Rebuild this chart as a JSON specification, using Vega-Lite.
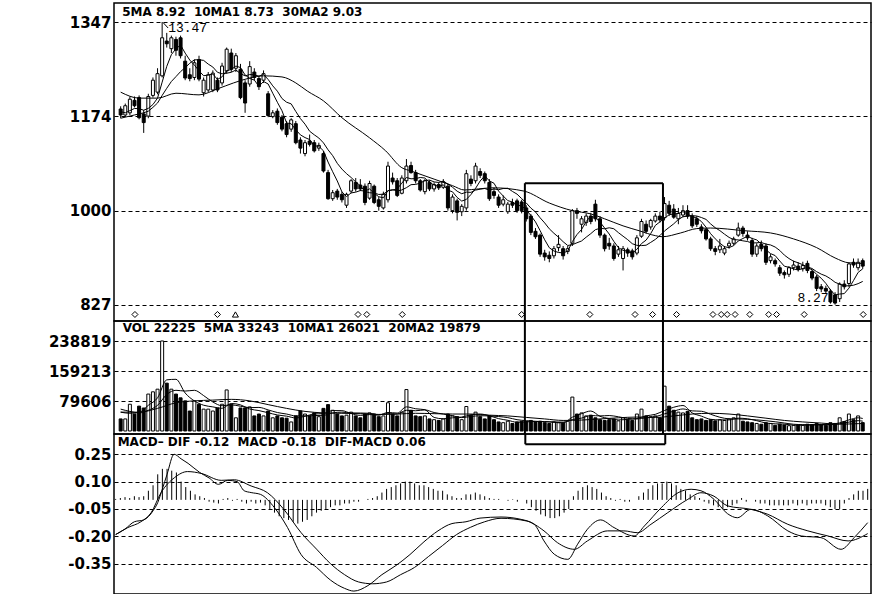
{
"$schema": "https://vega.github.io/schema/vega-lite/v6.json",
"background": "white",
"bounds": "flush",
"padding": {"left": 0, "top": 2, "right": 4, "bottom": 0},
"config": {
  "view": {"stroke": "black", "strokeWidth": 1.5},
  "concat": {"spacing": 0},
  "axis": {"labelFont": "DejaVu Sans", "labelFontWeight": "bold", "labelFontSize": 15, "labelColor": "black", "ticks": false, "domain": false, "gridColor": "black", "gridDash": [4, 3], "gridOpacity": 1, "gridWidth": 1, "labelPadding": 3, "minExtent": 113, "maxExtent": 113, "tickCount": 12, "labelOverlap": false}
},
"resolve": {"scale": {"y": "independent"}},
"datasets": {
"k": [
{"i":0,"o":1187,"h":1192,"l":1170,"c":1176,"v":32000,"m":0.005,"a":1182,"b":1170},
{"i":1,"o":1176,"h":1197,"l":1172,"c":1193,"v":32000,"m":0.01,"a":1180,"b":1172},
{"i":2,"o":1180,"h":1210,"l":1176,"c":1205,"v":71000,"m":0.015,"a":1184,"b":1174},
{"i":3,"o":1203,"h":1210,"l":1190,"c":1193,"v":45000,"m":0.01,"a":1188,"b":1176},
{"i":4,"o":1208,"h":1212,"l":1168,"c":1171,"v":66000,"m":0.02,"a":1187.6,"b":1178},
{"i":5,"o":1178,"h":1185,"l":1143,"c":1162,"v":61000,"m":0.015,"a":1184.8,"b":1180},
{"i":6,"o":1174,"h":1215,"l":1170,"c":1210,"v":98000,"m":0.02,"a":1188.2,"b":1183},
{"i":7,"o":1212,"h":1245,"l":1208,"c":1240,"v":104000,"m":0.05,"a":1195.2,"b":1190},
{"i":8,"o":1218,"h":1262,"l":1214,"c":1252,"v":111000,"m":0.08,"a":1207,"b":1198},
{"i":9,"o":1248,"h":1347,"l":1245,"c":1318,"v":239000,"m":0.14,"a":1236.4,"b":1212},
{"i":10,"o":1312,"h":1327,"l":1300,"c":1307,"v":127000,"m":0.17,"a":1265.4,"b":1225.1},
{"i":11,"o":1298,"h":1322,"l":1290,"c":1318,"v":111000,"m":0.17,"a":1287,"b":1237.6},
{"i":12,"o":1315,"h":1320,"l":1285,"c":1295,"v":98000,"m":0.16,"a":1298,"b":1246.6},
{"i":13,"o":1318,"h":1322,"l":1280,"c":1285,"v":88000,"m":0.15,"a":1304.6,"b":1255.8},
{"i":14,"o":1275,"h":1285,"l":1240,"c":1244,"v":80000,"m":0.1,"a":1289.8,"b":1263.1},
{"i":15,"o":1250,"h":1262,"l":1238,"c":1243,"v":53000,"m":0.07,"a":1277,"b":1271.2},
{"i":16,"o":1245,"h":1278,"l":1240,"c":1272,"v":80000,"m":0.05,"a":1267.8,"b":1277.4},
{"i":17,"o":1278,"h":1285,"l":1238,"c":1242,"v":71000,"m":0.03,"a":1257.2,"b":1277.6},
{"i":18,"o":1217,"h":1245,"l":1210,"c":1240,"v":58000,"m":0.02,"a":1248.2,"b":1276.4},
{"i":19,"o":1222,"h":1255,"l":1218,"c":1250,"v":58000,"m":0.01,"a":1249.4,"b":1269.6},
{"i":20,"o":1222,"h":1258,"l":1218,"c":1253,"v":53000,"m":-0.01,"a":1251.4,"b":1264.2},
{"i":21,"o":1240,"h":1245,"l":1218,"c":1222,"v":61000,"m":-0.015,"a":1241.4,"b":1254.6},
{"i":22,"o":1235,"h":1272,"l":1230,"c":1266,"v":71000,"m":-0.02,"a":1246.2,"b":1251.7},
{"i":23,"o":1257,"h":1300,"l":1252,"c":1297,"v":109000,"m":0.005,"a":1257.6,"b":1252.9},
{"i":24,"o":1290,"h":1298,"l":1255,"c":1260,"v":71000,"m":0.01,"a":1259.6,"b":1254.5},
{"i":25,"o":1262,"h":1290,"l":1255,"c":1285,"v":35000,"m":-0.005,"a":1266,"b":1258.7},
{"i":26,"o":1260,"h":1270,"l":1205,"c":1208,"v":61000,"m":0.005,"a":1263.2,"b":1252.3},
{"i":27,"o":1235,"h":1240,"l":1180,"c":1198,"v":61000,"m":-0.01,"a":1249.6,"b":1247.9},
{"i":28,"o":1233,"h":1275,"l":1228,"c":1265,"v":64000,"m":-0.02,"a":1243.2,"b":1250.4},
{"i":29,"o":1255,"h":1262,"l":1240,"c":1245,"v":40000,"m":-0.01,"a":1240.2,"b":1249.9},
{"i":30,"o":1243,"h":1248,"l":1222,"c":1228,"v":45000,"m":-0.02,"a":1228.8,"b":1247.4},
{"i":31,"o":1240,"h":1258,"l":1235,"c":1252,"v":40000,"m":-0.015,"a":1237.6,"b":1250.4},
{"i":32,"o":1215,"h":1220,"l":1172,"c":1175,"v":53000,"m":-0.03,"a":1233,"b":1241.3},
{"i":33,"o":1173,"h":1185,"l":1170,"c":1180,"v":35000,"m":-0.05,"a":1216,"b":1229.6},
{"i":34,"o":1183,"h":1188,"l":1158,"c":1162,"v":40000,"m":-0.07,"a":1199.4,"b":1219.8},
{"i":35,"o":1172,"h":1176,"l":1146,"c":1150,"v":35000,"m":-0.09,"a":1183.8,"b":1206.3},
{"i":36,"o":1160,"h":1165,"l":1135,"c":1140,"v":34000,"m":-0.1,"a":1161.4,"b":1199.5},
{"i":37,"o":1150,"h":1170,"l":1145,"c":1167,"v":24000,"m":-0.11,"a":1159.8,"b":1196.4},
{"i":38,"o":1160,"h":1165,"l":1122,"c":1125,"v":40000,"m":-0.12,"a":1148.8,"b":1182.4},
{"i":39,"o":1130,"h":1135,"l":1105,"c":1115,"v":53000,"m":-0.13,"a":1139.4,"b":1169.4},
{"i":40,"o":1105,"h":1130,"l":1100,"c":1125,"v":45000,"m":-0.12,"a":1134.4,"b":1159.1},
{"i":41,"o":1128,"h":1140,"l":1118,"c":1122,"v":40000,"m":-0.11,"a":1130.8,"b":1146.1},
{"i":42,"o":1125,"h":1130,"l":1107,"c":1110,"v":48000,"m":-0.09,"a":1119.4,"b":1139.6},
{"i":43,"o":1115,"h":1125,"l":1110,"c":1120,"v":38000,"m":-0.07,"a":1118.4,"b":1133.6},
{"i":44,"o":1105,"h":1110,"l":1070,"c":1073,"v":60000,"m":-0.06,"a":1110,"b":1124.7},
{"i":45,"o":1070,"h":1075,"l":1020,"c":1022,"v":70000,"m":-0.05,"a":1089.4,"b":1111.9},
{"i":46,"o":1022,"h":1038,"l":1018,"c":1033,"v":55000,"m":-0.04,"a":1071.6,"b":1101.2},
{"i":47,"o":1036,"h":1040,"l":1020,"c":1025,"v":45000,"m":-0.03,"a":1054.6,"b":1087},
{"i":48,"o":1030,"h":1035,"l":1015,"c":1020,"v":40000,"m":-0.03,"a":1034.6,"b":1076.5},
{"i":49,"o":1010,"h":1033,"l":1005,"c":1030,"v":42000,"m":-0.02,"a":1026,"b":1068},
{"i":50,"o":1036,"h":1058,"l":1032,"c":1055,"v":50000,"m":-0.02,"a":1032.6,"b":1061},
{"i":51,"o":1052,"h":1060,"l":1035,"c":1040,"v":40000,"m":-0.01,"a":1034,"b":1052.8},
{"i":52,"o":1047,"h":1058,"l":1036,"c":1040,"v":35000,"m":-0.01,"a":1037,"b":1045.8},
{"i":53,"o":1045,"h":1050,"l":1010,"c":1015,"v":45000,"m":0,"a":1036,"b":1035.3},
{"i":54,"o":1023,"h":1055,"l":1020,"c":1050,"v":48000,"m":0.005,"a":1040,"b":1033},
{"i":55,"o":1045,"h":1048,"l":1012,"c":1015,"v":45000,"m":0.01,"a":1032,"b":1032.3},
{"i":56,"o":1020,"h":1025,"l":1000,"c":1008,"v":38000,"m":0.02,"a":1025.6,"b":1029.8},
{"i":57,"o":1005,"h":1035,"l":1002,"c":1030,"v":40000,"m":0.04,"a":1023.6,"b":1030.3},
{"i":58,"o":1020,"h":1090,"l":1015,"c":1082,"v":75000,"m":0.06,"a":1037,"b":1036.5},
{"i":59,"o":1060,"h":1070,"l":1048,"c":1053,"v":45000,"m":0.07,"a":1037.6,"b":1038.8},
{"i":60,"o":1055,"h":1060,"l":1025,"c":1028,"v":40000,"m":0.08,"a":1040.2,"b":1036.1},
{"i":61,"o":1032,"h":1065,"l":1030,"c":1060,"v":50000,"m":0.09,"a":1050.6,"b":1038.1},
{"i":62,"o":1055,"h":1095,"l":1050,"c":1082,"v":110000,"m":0.1,"a":1061,"b":1042.3},
{"i":63,"o":1083,"h":1090,"l":1068,"c":1070,"v":55000,"m":0.1,"a":1058.6,"b":1047.8},
{"i":64,"o":1070,"h":1075,"l":1050,"c":1055,"v":40000,"m":0.09,"a":1059,"b":1048.3},
{"i":65,"o":1055,"h":1058,"l":1035,"c":1038,"v":38000,"m":0.08,"a":1061,"b":1050.6},
{"i":66,"o":1035,"h":1058,"l":1030,"c":1055,"v":40000,"m":0.08,"a":1060,"b":1055.3},
{"i":67,"o":1052,"h":1056,"l":1036,"c":1040,"v":32000,"m":0.07,"a":1051.6,"b":1056.3},
{"i":68,"o":1040,"h":1052,"l":1035,"c":1048,"v":30000,"m":0.06,"a":1047.2,"b":1052.9},
{"i":69,"o":1048,"h":1052,"l":1038,"c":1042,"v":28000,"m":0.05,"a":1044.6,"b":1051.8},
{"i":70,"o":1043,"h":1058,"l":1040,"c":1053,"v":32000,"m":0.05,"a":1047.6,"b":1054.3},
{"i":71,"o":1045,"h":1050,"l":1000,"c":1005,"v":45000,"m":0.03,"a":1037.6,"b":1048.8},
{"i":72,"o":1000,"h":1030,"l":995,"c":1025,"v":40000,"m":0.02,"a":1034.6,"b":1043.1},
{"i":73,"o":1018,"h":1022,"l":982,"c":997,"v":38000,"m":0.01,"a":1024.4,"b":1035.8},
{"i":74,"o":998,"h":1012,"l":990,"c":1008,"v":30000,"m":0.01,"a":1017.6,"b":1031.1},
{"i":75,"o":1005,"h":1075,"l":1000,"c":1068,"v":65000,"m":0.03,"a":1020.6,"b":1034.1},
{"i":76,"o":1058,"h":1065,"l":1045,"c":1050,"v":42000,"m":0.03,"a":1029.6,"b":1033.6},
{"i":77,"o":1055,"h":1088,"l":1050,"c":1082,"v":50000,"m":0.04,"a":1041,"b":1037.8},
{"i":78,"o":1072,"h":1078,"l":1060,"c":1065,"v":38000,"m":0.03,"a":1054.6,"b":1039.5},
{"i":79,"o":1068,"h":1072,"l":1050,"c":1055,"v":32000,"m":0.02,"a":1064,"b":1040.8},
{"i":80,"o":1052,"h":1058,"l":1018,"c":1022,"v":40000,"m":0.01,"a":1054.8,"b":1037.7},
{"i":81,"o":1035,"h":1042,"l":1022,"c":1028,"v":30000,"m":0.005,"a":1050.4,"b":1040},
{"i":82,"o":1025,"h":1030,"l":1005,"c":1010,"v":24000,"m":0.005,"a":1036,"b":1038.5},
{"i":83,"o":1012,"h":1028,"l":1008,"c":1020,"v":22000,"m":0,"a":1027,"b":1040.8},
{"i":84,"o":998,"h":1016,"l":994,"c":1012,"v":26000,"m":-0.005,"a":1018.4,"b":1041.2},
{"i":85,"o":1015,"h":1022,"l":1005,"c":1010,"v":20000,"m":0.003,"a":1016,"b":1035.4},
{"i":86,"o":1018,"h":1022,"l":996,"c":1000,"v":24000,"m":-0.01,"a":1010.4,"b":1030.4},
{"i":87,"o":1016,"h":1020,"l":995,"c":1000,"v":26000,"m":0,"a":1008.4,"b":1022.2},
{"i":88,"o":1005,"h":1010,"l":980,"c":985,"v":25000,"m":-0.02,"a":1001.4,"b":1014.2},
{"i":89,"o":990,"h":994,"l":955,"c":960,"v":28000,"m":-0.04,"a":991,"b":1004.7},
{"i":90,"o":962,"h":968,"l":948,"c":952,"v":24000,"m":-0.06,"a":979.4,"b":997.7},
{"i":91,"o":955,"h":958,"l":915,"c":920,"v":26000,"m":-0.08,"a":963.4,"b":986.9},
{"i":92,"o":922,"h":928,"l":908,"c":915,"v":22000,"m":-0.09,"a":946.4,"b":977.4},
{"i":93,"o":918,"h":925,"l":905,"c":912,"v":20000,"m":-0.1,"a":931.8,"b":966.6},
{"i":94,"o":917,"h":935,"l":912,"c":930,"v":24000,"m":-0.1,"a":925.8,"b":958.4},
{"i":95,"o":932,"h":955,"l":925,"c":938,"v":22000,"m":-0.09,"a":923,"b":951.2},
{"i":96,"o":930,"h":935,"l":910,"c":917,"v":21000,"m":-0.07,"a":922.4,"b":942.9},
{"i":97,"o":925,"h":935,"l":920,"c":930,"v":26000,"m":-0.05,"a":925.4,"b":935.9},
{"i":98,"o":940,"h":1003,"l":935,"c":1000,"v":90000,"m":0.02,"a":943,"b":937.4},
{"i":99,"o":1000,"h":1005,"l":985,"c":995,"v":45000,"m":0.05,"a":956,"b":940.9},
{"i":100,"o":975,"h":990,"l":960,"c":985,"v":48000,"m":0.07,"a":965.4,"b":944.2},
{"i":101,"o":978,"h":995,"l":972,"c":990,"v":40000,"m":0.08,"a":980,"b":951.2},
{"i":102,"o":990,"h":996,"l":975,"c":980,"v":42000,"m":0.07,"a":990,"b":957.7},
{"i":103,"o":1012,"h":1020,"l":980,"c":985,"v":35000,"m":0.06,"a":987,"b":965},
{"i":104,"o":985,"h":990,"l":950,"c":955,"v":30000,"m":0.04,"a":979,"b":967.5},
{"i":105,"o":955,"h":958,"l":925,"c":930,"v":28000,"m":0.02,"a":968,"b":966.7},
{"i":106,"o":940,"h":950,"l":928,"c":935,"v":30000,"m":0.01,"a":957,"b":968.5},
{"i":107,"o":935,"h":940,"l":908,"c":912,"v":32000,"m":-0.005,"a":943.4,"b":966.7},
{"i":108,"o":920,"h":935,"l":915,"c":928,"v":27000,"m":0.005,"a":932,"b":959.5},
{"i":109,"o":912,"h":935,"l":890,"c":930,"v":35000,"m":-0.01,"a":927,"b":953},
{"i":110,"o":928,"h":932,"l":915,"c":922,"v":30000,"m":-0.01,"a":925.4,"b":946.7},
{"i":111,"o":926,"h":930,"l":910,"c":915,"v":28000,"m":0,"a":921.4,"b":939.2},
{"i":112,"o":922,"h":955,"l":918,"c":950,"v":45000,"m":0.02,"a":929,"b":936.2},
{"i":113,"o":953,"h":985,"l":950,"c":980,"v":58000,"m":0.04,"a":939.4,"b":935.7},
{"i":114,"o":975,"h":982,"l":958,"c":962,"v":40000,"m":0.06,"a":945.8,"b":936.4},
{"i":115,"o":970,"h":985,"l":965,"c":982,"v":38000,"m":0.08,"a":957.8,"b":941.6},
{"i":116,"o":981,"h":995,"l":978,"c":990,"v":40000,"m":0.09,"a":972.8,"b":947.1},
{"i":117,"o":990,"h":998,"l":978,"c":983,"v":35000,"m":0.09,"a":979.4,"b":954.2},
{"i":118,"o":987,"h":1025,"l":982,"c":1013,"v":119000,"m":0.1,"a":986,"b":962.7},
{"i":119,"o":1010,"h":1018,"l":990,"c":995,"v":66000,"m":0.09,"a":992.6,"b":969.2},
{"i":120,"o":1003,"h":1012,"l":985,"c":988,"v":55000,"m":0.08,"a":993.8,"b":975.8},
{"i":121,"o":985,"h":1005,"l":975,"c":995,"v":50000,"m":0.06,"a":994.8,"b":983.8},
{"i":122,"o":992,"h":1010,"l":988,"c":1000,"v":48000,"m":0.05,"a":998.2,"b":988.8},
{"i":123,"o":1000,"h":1010,"l":985,"c":990,"v":52000,"m":0.03,"a":993.6,"b":989.8},
{"i":124,"o":990,"h":995,"l":968,"c":972,"v":35000,"m":0.02,"a":989,"b":990.8},
{"i":125,"o":985,"h":990,"l":970,"c":975,"v":30000,"m":0.01,"a":986.4,"b":990.1},
{"i":126,"o":970,"h":975,"l":958,"c":963,"v":32000,"m":-0.01,"a":980,"b":987.4},
{"i":127,"o":965,"h":968,"l":945,"c":948,"v":28000,"m":-0.02,"a":969.6,"b":983.9},
{"i":128,"o":948,"h":952,"l":926,"c":930,"v":30000,"m":-0.03,"a":957.6,"b":975.6},
{"i":129,"o":930,"h":935,"l":918,"c":925,"v":27000,"m":-0.04,"a":948.2,"b":968.6},
{"i":130,"o":928,"h":948,"l":922,"c":935,"v":30000,"m":-0.05,"a":940.2,"b":963.3},
{"i":131,"o":922,"h":935,"l":918,"c":930,"v":28000,"m":-0.04,"a":933.6,"b":956.8},
{"i":132,"o":935,"h":945,"l":930,"c":940,"v":32000,"m":-0.03,"a":932,"b":950.8},
{"i":133,"o":940,"h":952,"l":936,"c":948,"v":35000,"m":-0.02,"a":935.6,"b":946.6},
{"i":134,"o":955,"h":978,"l":952,"c":968,"v":45000,"m":0.01,"a":944.2,"b":946.2},
{"i":135,"o":968,"h":972,"l":952,"c":958,"v":26000,"m":-0.01,"a":948.8,"b":944.5},
{"i":136,"o":955,"h":962,"l":945,"c":950,"v":24000,"m":0,"a":952.8,"b":943.2},
{"i":137,"o":945,"h":950,"l":915,"c":920,"v":22000,"m":-0.01,"a":948.8,"b":940.4},
{"i":138,"o":920,"h":940,"l":915,"c":935,"v":20000,"m":-0.02,"a":946.2,"b":940.9},
{"i":139,"o":938,"h":945,"l":925,"c":930,"v":18000,"m":-0.02,"a":938.6,"b":941.4},
{"i":140,"o":935,"h":940,"l":900,"c":905,"v":22000,"m":-0.03,"a":928,"b":938.4},
{"i":141,"o":908,"h":920,"l":903,"c":915,"v":20000,"m":-0.03,"a":921,"b":936.9},
{"i":142,"o":908,"h":912,"l":897,"c":902,"v":15000,"m":-0.03,"a":917.4,"b":933.1},
{"i":143,"o":895,"h":900,"l":880,"c":885,"v":18000,"m":-0.03,"a":907.4,"b":926.8},
{"i":144,"o":886,"h":890,"l":875,"c":882,"v":16000,"m":-0.03,"a":897.8,"b":918.2},
{"i":145,"o":883,"h":898,"l":878,"c":895,"v":14000,"m":-0.02,"a":895.8,"b":911.9},
{"i":146,"o":895,"h":908,"l":890,"c":900,"v":15000,"m":-0.03,"a":892.8,"b":906.9},
{"i":147,"o":898,"h":905,"l":888,"c":892,"v":16000,"m":-0.02,"a":890.8,"b":904.1},
{"i":148,"o":893,"h":906,"l":888,"c":899,"v":15000,"m":-0.03,"a":893.6,"b":900.5},
{"i":149,"o":903,"h":908,"l":885,"c":890,"v":18000,"m":-0.02,"a":895.2,"b":896.5},
{"i":150,"o":888,"h":892,"l":872,"c":876,"v":17000,"m":-0.02,"a":891.4,"b":893.6},
{"i":151,"o":878,"h":882,"l":852,"c":857,"v":20000,"m":-0.02,"a":882.8,"b":887.8},
{"i":152,"o":860,"h":865,"l":850,"c":856,"v":16000,"m":-0.03,"a":875.6,"b":883.2},
{"i":153,"o":857,"h":862,"l":848,"c":852,"v":15000,"m":-0.04,"a":866.2,"b":879.9},
{"i":154,"o":852,"h":856,"l":829,"c":832,"v":22000,"m":-0.05,"a":854.2,"b":874.7},
{"i":155,"o":845,"h":850,"l":827,"c":830,"v":20000,"m":-0.05,"a":845,"b":868.2},
{"i":156,"o":838,"h":868,"l":832,"c":865,"v":35000,"m":-0.02,"a":846.6,"b":864.7},
{"i":157,"o":865,"h":872,"l":855,"c":860,"v":25000,"m":0.01,"a":847.4,"b":861.5},
{"i":158,"o":866,"h":905,"l":860,"c":902,"v":45000,"m":0.03,"a":857.4,"b":861.8},
{"i":159,"o":905,"h":912,"l":895,"c":900,"v":30000,"m":0.05,"a":871.4,"b":862.8},
{"i":160,"o":895,"h":912,"l":890,"c":905,"v":40000,"m":0.05,"a":886.4,"b":865.7},
{"i":161,"o":908,"h":912,"l":893,"c":898,"v":22225,"m":0.06,"a":893,"b":869.8}
],
"ma30": [
{"i":0,"v":1218},{"i":4,"v":1207},{"i":8,"v":1207},{"i":12,"v":1216},{"i":17,"v":1213},{"i":21,"v":1224},{"i":24.5,"v":1235},{"i":28,"v":1244},{"i":31,"v":1248},{"i":35,"v":1246},{"i":38,"v":1235},{"i":40.5,"v":1220},{"i":44,"v":1202},{"i":48,"v":1171},{"i":54,"v":1134},{"i":57.5,"v":1110},{"i":61,"v":1079},{"i":63,"v":1073},{"i":68,"v":1058},{"i":72,"v":1046},{"i":74.6,"v":1038},{"i":77.6,"v":1040},{"i":80.8,"v":1042},{"i":87.5,"v":1036},{"i":93,"v":1014},{"i":98,"v":1000},{"i":102,"v":994},{"i":105,"v":985},{"i":109,"v":972},{"i":112.5,"v":963},{"i":116,"v":954},{"i":117.5,"v":952},{"i":121.5,"v":959},{"i":125,"v":967},{"i":128,"v":968},{"i":135.4,"v":963},{"i":141,"v":959},{"i":146,"v":948},{"i":151,"v":932},{"i":155,"v":913},{"i":158,"v":904},{"i":161,"v":903}
],
"sig": [
{"i":3.1,"k":"diamond"},{"i":21,"k":"diamond"},{"i":24.9,"k":"triangle-up"},{"i":51.5,"k":"diamond"},{"i":53.4,"k":"diamond"},{"i":61.1,"k":"diamond"},{"i":87,"k":"diamond"},{"i":101.8,"k":"diamond"},{"i":111.6,"k":"diamond"},{"i":115.4,"k":"diamond"},{"i":120.6,"k":"diamond"},{"i":128.5,"k":"diamond"},{"i":130.3,"k":"diamond"},{"i":131.6,"k":"diamond"},{"i":133.3,"k":"diamond"},{"i":136.5,"k":"diamond"},{"i":140.6,"k":"diamond"},{"i":142.3,"k":"diamond"},{"i":148.3,"k":"diamond"},{"i":161.1,"k":"diamond"}
],
"vma": [
{"s":"5","i":0,"v":50000},{"s":"5","i":2,"v":47000},{"s":"5","i":4,"v":49200},{"s":"5","i":6,"v":68200},{"s":"5","i":8,"v":88000},{"s":"5","i":10,"v":135800},{"s":"5","i":12,"v":137200},{"s":"5","i":14,"v":100800},{"s":"5","i":16,"v":79800},{"s":"5","i":18,"v":68400},{"s":"5","i":20,"v":64000},{"s":"5","i":22,"v":60200},{"s":"5","i":24,"v":73000},{"s":"5","i":26,"v":69400},{"s":"5","i":28,"v":58400},{"s":"5","i":30,"v":54200},{"s":"5","i":32,"v":48400},{"s":"5","i":34,"v":42600},{"s":"5","i":36,"v":39400},{"s":"5","i":38,"v":34600},{"s":"5","i":40,"v":39200},{"s":"5","i":42,"v":45200},{"s":"5","i":44,"v":46200},{"s":"5","i":46,"v":54200},{"s":"5","i":48,"v":54000},{"s":"5","i":50,"v":46400},{"s":"5","i":52,"v":41400},{"s":"5","i":54,"v":43600},{"s":"5","i":56,"v":42200},{"s":"5","i":58,"v":49200},{"s":"5","i":60,"v":47600},{"s":"5","i":62,"v":64000},{"s":"5","i":64,"v":59000},{"s":"5","i":66,"v":56600},{"s":"5","i":68,"v":36000},{"s":"5","i":70,"v":32400},{"s":"5","i":72,"v":35000},{"s":"5","i":74,"v":37000},{"s":"5","i":76,"v":43000},{"s":"5","i":78,"v":45000},{"s":"5","i":80,"v":40400},{"s":"5","i":82,"v":32800},{"s":"5","i":84,"v":28400},{"s":"5","i":86,"v":23200},{"s":"5","i":88,"v":24200},{"s":"5","i":90,"v":25400},{"s":"5","i":92,"v":25000},{"s":"5","i":94,"v":23200},{"s":"5","i":96,"v":21800},{"s":"5","i":98,"v":36600},{"s":"5","i":100,"v":46000},{"s":"5","i":102,"v":53000},{"s":"5","i":104,"v":39000},{"s":"5","i":106,"v":33000},{"s":"5","i":108,"v":29400},{"s":"5","i":110,"v":30800},{"s":"5","i":112,"v":33000},{"s":"5","i":114,"v":40200},{"s":"5","i":116,"v":44200},{"s":"5","i":118,"v":54400},{"s":"5","i":120,"v":63000},{"s":"5","i":122,"v":67600},{"s":"5","i":124,"v":48000},{"s":"5","i":126,"v":39400},{"s":"5","i":128,"v":31000},{"s":"5","i":130,"v":29400},{"s":"5","i":132,"v":29400},{"s":"5","i":134,"v":34000},{"s":"5","i":136,"v":32400},{"s":"5","i":138,"v":27400},{"s":"5","i":140,"v":21200},{"s":"5","i":142,"v":19000},{"s":"5","i":144,"v":18200},{"s":"5","i":146,"v":15600},{"s":"5","i":148,"v":15200},{"s":"5","i":150,"v":16200},{"s":"5","i":152,"v":17200},{"s":"5","i":154,"v":18000},{"s":"5","i":156,"v":21600},{"s":"5","i":158,"v":29400},{"s":"5","i":160,"v":35000},{"s":"5","i":161,"v":33243},
{"s":"10","i":0,"v":58000},{"s":"10","i":2,"v":52000},{"s":"10","i":4,"v":48000},{"s":"10","i":6,"v":55000},{"s":"10","i":8,"v":68000},{"s":"10","i":10,"v":97000},{"s":"10","i":12,"v":108000},{"s":"10","i":14,"v":106000},{"s":"10","i":16,"v":108000},{"s":"10","i":18,"v":94000},{"s":"10","i":20,"v":77000},{"s":"10","i":22,"v":67000},{"s":"10","i":24,"v":69500},{"s":"10","i":26,"v":65700},{"s":"10","i":28,"v":62000},{"s":"10","i":30,"v":62600},{"s":"10","i":32,"v":56000},{"s":"10","i":34,"v":49000},{"s":"10","i":36,"v":45000},{"s":"10","i":38,"v":40000},{"s":"10","i":40,"v":40000},{"s":"10","i":42,"v":41000},{"s":"10","i":44,"v":41600},{"s":"10","i":46,"v":48000},{"s":"10","i":48,"v":50000},{"s":"10","i":50,"v":48000},{"s":"10","i":52,"v":47700},{"s":"10","i":54,"v":47000},{"s":"10","i":56,"v":43000},{"s":"10","i":58,"v":46000},{"s":"10","i":60,"v":45000},{"s":"10","i":62,"v":55000},{"s":"10","i":64,"v":53700},{"s":"10","i":66,"v":56000},{"s":"10","i":68,"v":49000},{"s":"10","i":70,"v":45000},{"s":"10","i":72,"v":40500},{"s":"10","i":74,"v":35500},{"s":"10","i":76,"v":38500},{"s":"10","i":78,"v":40500},{"s":"10","i":80,"v":40000},{"s":"10","i":82,"v":38400},{"s":"10","i":84,"v":35500},{"s":"10","i":86,"v":30000},{"s":"10","i":88,"v":27400},{"s":"10","i":90,"v":25600},{"s":"10","i":92,"v":24400},{"s":"10","i":94,"v":24000},{"s":"10","i":96,"v":23500},{"s":"10","i":98,"v":30400},{"s":"10","i":100,"v":34200},{"s":"10","i":102,"v":41000},{"s":"10","i":104,"v":40000},{"s":"10","i":106,"v":41000},{"s":"10","i":108,"v":37700},{"s":"10","i":110,"v":33400},{"s":"10","i":112,"v":32000},{"s":"10","i":114,"v":35000},{"s":"10","i":116,"v":38000},{"s":"10","i":118,"v":45500},{"s":"10","i":120,"v":52600},{"s":"10","i":122,"v":58500},{"s":"10","i":124,"v":53400},{"s":"10","i":126,"v":52400},{"s":"10","i":128,"v":44400},{"s":"10","i":130,"v":36500},{"s":"10","i":132,"v":32300},{"s":"10","i":134,"v":32000},{"s":"10","i":136,"v":31000},{"s":"10","i":138,"v":29500},{"s":"10","i":140,"v":27200},{"s":"10","i":142,"v":24500},{"s":"10","i":144,"v":21200},{"s":"10","i":146,"v":17900},{"s":"10","i":148,"v":16900},{"s":"10","i":150,"v":16500},{"s":"10","i":152,"v":16300},{"s":"10","i":154,"v":16900},{"s":"10","i":156,"v":19200},{"s":"10","i":158,"v":23500},{"s":"10","i":160,"v":27400},{"s":"10","i":161,"v":26021},
{"s":"20","i":0,"v":50000},{"s":"20","i":4,"v":50000},{"s":"20","i":8,"v":60000},{"s":"20","i":12,"v":75000},{"s":"20","i":16,"v":80000},{"s":"20","i":20,"v":82000},{"s":"20","i":24,"v":84000},{"s":"20","i":28,"v":80000},{"s":"20","i":32,"v":70000},{"s":"20","i":36,"v":60000},{"s":"20","i":40,"v":52000},{"s":"20","i":44,"v":48000},{"s":"20","i":48,"v":47000},{"s":"20","i":52,"v":46000},{"s":"20","i":56,"v":44000},{"s":"20","i":60,"v":45000},{"s":"20","i":64,"v":47000},{"s":"20","i":68,"v":46000},{"s":"20","i":72,"v":45000},{"s":"20","i":76,"v":45000},{"s":"20","i":80,"v":42000},{"s":"20","i":84,"v":40000},{"s":"20","i":88,"v":36000},{"s":"20","i":92,"v":32000},{"s":"20","i":96,"v":28000},{"s":"20","i":100,"v":29000},{"s":"20","i":104,"v":32000},{"s":"20","i":108,"v":35000},{"s":"20","i":112,"v":37000},{"s":"20","i":116,"v":36000},{"s":"20","i":120,"v":40000},{"s":"20","i":124,"v":45000},{"s":"20","i":128,"v":47000},{"s":"20","i":132,"v":45000},{"s":"20","i":136,"v":40000},{"s":"20","i":140,"v":34000},{"s":"20","i":144,"v":28000},{"s":"20","i":148,"v":24000},{"s":"20","i":152,"v":21000},{"s":"20","i":156,"v":18000},{"s":"20","i":160,"v":19500},{"s":"20","i":161,"v":19879}
],
"macd": [
{"s":"DIF","i":0,"v":-0.19},{"s":"DIF","i":2,"v":-0.16},{"s":"DIF","i":4,"v":-0.12},{"s":"DIF","i":6,"v":-0.11},{"s":"DIF","i":8,"v":-0.06},{"s":"DIF","i":9,"v":-0.015},{"s":"DIF","i":10,"v":0.06},{"s":"DIF","i":11,"v":0.14},{"s":"DIF","i":12.5,"v":0.25},{"s":"DIF","i":14,"v":0.225},{"s":"DIF","i":15.5,"v":0.2},{"s":"DIF","i":18,"v":0.15},{"s":"DIF","i":20,"v":0.12},{"s":"DIF","i":22,"v":0.085},{"s":"DIF","i":24,"v":0.107},{"s":"DIF","i":26,"v":0.1},{"s":"DIF","i":27.5,"v":0.05},{"s":"DIF","i":29,"v":0.04},{"s":"DIF","i":31,"v":0.03},{"s":"DIF","i":34,"v":-0.043},{"s":"DIF","i":36.8,"v":-0.152},{"s":"DIF","i":39.7,"v":-0.3},{"s":"DIF","i":43,"v":-0.37},{"s":"DIF","i":46,"v":-0.44},{"s":"DIF","i":49,"v":-0.485},{"s":"DIF","i":51,"v":-0.5},{"s":"DIF","i":54,"v":-0.47},{"s":"DIF","i":57,"v":-0.41},{"s":"DIF","i":60,"v":-0.36},{"s":"DIF","i":63,"v":-0.3},{"s":"DIF","i":66,"v":-0.23},{"s":"DIF","i":69,"v":-0.17},{"s":"DIF","i":72,"v":-0.13},{"s":"DIF","i":75,"v":-0.12},{"s":"DIF","i":78,"v":-0.1},{"s":"DIF","i":82.5,"v":-0.094},{"s":"DIF","i":86.8,"v":-0.107},{"s":"DIF","i":89.6,"v":-0.134},{"s":"DIF","i":91.7,"v":-0.225},{"s":"DIF","i":93.9,"v":-0.298},{"s":"DIF","i":96.8,"v":-0.326},{"s":"DIF","i":98.9,"v":-0.243},{"s":"DIF","i":101,"v":-0.161},{"s":"DIF","i":103.8,"v":-0.11},{"s":"DIF","i":106.7,"v":-0.152},{"s":"DIF","i":111,"v":-0.198},{"s":"DIF","i":113.2,"v":-0.143},{"s":"DIF","i":116.8,"v":-0.043},{"s":"DIF","i":120.4,"v":0.039},{"s":"DIF","i":123.2,"v":0.058},{"s":"DIF","i":125.3,"v":0.05},{"s":"DIF","i":128.1,"v":0.003},{"s":"DIF","i":131,"v":-0.076},{"s":"DIF","i":133.1,"v":-0.098},{"s":"DIF","i":136,"v":-0.052},{"s":"DIF","i":139.6,"v":-0.088},{"s":"DIF","i":143.9,"v":-0.17},{"s":"DIF","i":146.8,"v":-0.198},{"s":"DIF","i":151,"v":-0.207},{"s":"DIF","i":155.3,"v":-0.271},{"s":"DIF","i":158.1,"v":-0.207},{"s":"DIF","i":161,"v":-0.125},
{"s":"DEA","i":0,"v":-0.19},{"s":"DEA","i":2.6,"v":-0.152},{"s":"DEA","i":5.4,"v":-0.12},{"s":"DEA","i":7.6,"v":-0.07},{"s":"DEA","i":9.7,"v":0.039},{"s":"DEA","i":12.6,"v":0.122},{"s":"DEA","i":15.4,"v":0.155},{"s":"DEA","i":18.3,"v":0.145},{"s":"DEA","i":22.6,"v":0.107},{"s":"DEA","i":25.4,"v":0.11},{"s":"DEA","i":29,"v":0.076},{"s":"DEA","i":32.5,"v":0.039},{"s":"DEA","i":36,"v":-0.052},{"s":"DEA","i":39.7,"v":-0.18},{"s":"DEA","i":43,"v":-0.27},{"s":"DEA","i":46,"v":-0.35},{"s":"DEA","i":49,"v":-0.41},{"s":"DEA","i":52,"v":-0.45},{"s":"DEA","i":55,"v":-0.46},{"s":"DEA","i":58,"v":-0.45},{"s":"DEA","i":61,"v":-0.41},{"s":"DEA","i":64,"v":-0.37},{"s":"DEA","i":67,"v":-0.31},{"s":"DEA","i":70,"v":-0.25},{"s":"DEA","i":73,"v":-0.19},{"s":"DEA","i":76,"v":-0.15},{"s":"DEA","i":79,"v":-0.12},{"s":"DEA","i":82.5,"v":-0.101},{"s":"DEA","i":88,"v":-0.116},{"s":"DEA","i":91.7,"v":-0.17},{"s":"DEA","i":94.6,"v":-0.235},{"s":"DEA","i":98.2,"v":-0.271},{"s":"DEA","i":101,"v":-0.225},{"s":"DEA","i":105.3,"v":-0.17},{"s":"DEA","i":108.8,"v":-0.17},{"s":"DEA","i":111.7,"v":-0.18},{"s":"DEA","i":114.6,"v":-0.134},{"s":"DEA","i":118.2,"v":-0.07},{"s":"DEA","i":122.5,"v":0.003},{"s":"DEA","i":125.3,"v":0.039},{"s":"DEA","i":128.1,"v":0.02},{"s":"DEA","i":131,"v":-0.033},{"s":"DEA","i":136,"v":-0.052},{"s":"DEA","i":139.6,"v":-0.079},{"s":"DEA","i":143.9,"v":-0.134},{"s":"DEA","i":148.2,"v":-0.17},{"s":"DEA","i":152.5,"v":-0.198},{"s":"DEA","i":156.8,"v":-0.225},{"s":"DEA","i":161,"v":-0.185}
]
},
"vconcat": [
{
 "width": 757, "height": 318,
 "layer": [
  {"data": {"name": "k"}, "mark": {"type": "rule", "color": "black", "strokeWidth": 1},
   "encoding": {
    "x": {"field": "i", "type": "quantitative", "scale": {"domain": [-0.36, 161.71], "nice": false, "zero": false}, "axis": null},
    "y": {"field": "l", "type": "quantitative", "scale": {"domain": [797, 1382], "nice": false, "zero": false}, "axis": {"values": [827, 1000, 1174, 1347], "format": "d", "grid": true, "tickCount": 12}, "title": null},
    "y2": {"field": "h"}}},
  {"data": {"name": "k"}, "mark": {"type": "bar", "width": 3, "stroke": "black", "strokeWidth": 1},
   "encoding": {
    "x": {"field": "i", "type": "quantitative", "axis": null},
    "y": {"field": "o", "type": "quantitative", "scale": {"domain": [797, 1382], "nice": false, "zero": false}, "title": null},
    "y2": {"field": "c"},
    "fill": {"condition": {"test": "datum.c > datum.o", "value": "white"}, "value": "black"}}},
  {"data": {"name": "k"}, "mark": {"type": "line", "color": "black", "strokeWidth": 1},
   "encoding": {"x": {"field": "i", "type": "quantitative", "axis": null}, "y": {"field": "a", "type": "quantitative", "title": null}}},
  {"data": {"name": "k"}, "mark": {"type": "line", "color": "black", "strokeWidth": 1},
   "encoding": {"x": {"field": "i", "type": "quantitative", "axis": null}, "y": {"field": "b", "type": "quantitative", "title": null}}},
  {"data": {"name": "ma30"}, "mark": {"type": "line", "color": "black", "strokeWidth": 1, "interpolate": "monotone"},
   "encoding": {"x": {"field": "i", "type": "quantitative", "axis": null}, "y": {"field": "v", "type": "quantitative", "title": null}}},
  {"data": {"name": "sig"}, "mark": {"type": "point", "filled": false, "stroke": "black", "strokeWidth": 1, "size": 36, "opacity": 1},
   "encoding": {"x": {"field": "i", "type": "quantitative", "axis": null}, "y": {"datum": 809, "type": "quantitative", "title": null},
    "shape": {"field": "k", "type": "nominal", "scale": {"domain": ["diamond", "triangle-up"], "range": ["diamond", "triangle-up"]}, "legend": null}}},
  {"data": {"values": [{}]}, "mark": {"type": "text", "font": "DejaVu Sans", "fontWeight": "bold", "fontSize": 12, "align": "left", "baseline": "middle", "color": "black", "dx": 1.5, "text": "5MA 8.92 \u00a010MA1 8.73 \u00a030MA2 9.03"},
   "encoding": {"x": {"datum": 0, "type": "quantitative", "axis": null}, "y": {"datum": 1365, "type": "quantitative", "title": null}}},
  {"data": {"values": [{}]}, "mark": {"type": "text", "font": "Liberation Mono", "fontSize": 13, "align": "left", "baseline": "middle", "color": "black", "text": "13.47"},
   "encoding": {"x": {"datum": 10.3, "type": "quantitative", "axis": null}, "y": {"datum": 1336, "type": "quantitative", "title": null}}},
  {"data": {"values": [{}]}, "mark": {"type": "rule", "color": "black", "strokeWidth": 1},
   "encoding": {"x": {"datum": 9.2, "type": "quantitative", "axis": null}, "x2": {"datum": 10.3}, "y": {"datum": 1346, "type": "quantitative", "title": null}, "y2": {"datum": 1336}}},
  {"data": {"values": [{}]}, "mark": {"type": "text", "font": "Liberation Mono", "fontSize": 13, "align": "right", "baseline": "middle", "color": "black", "text": "8.27"},
   "encoding": {"x": {"datum": 153.6, "type": "quantitative", "axis": null}, "y": {"datum": 840, "type": "quantitative", "title": null}}},
  {"data": {"values": [{}]}, "mark": {"type": "rule", "color": "black", "strokeWidth": 2},
   "encoding": {"x": {"datum": 87.7, "type": "quantitative", "axis": null}, "x2": {"datum": 117.66}, "y": {"datum": 1050.5, "type": "quantitative", "title": null}}},
  {"data": {"values": [{}]}, "mark": {"type": "rule", "color": "black", "strokeWidth": 2},
   "encoding": {"x": {"datum": 87.7, "type": "quantitative", "axis": null}, "y": {"datum": 1050.5, "type": "quantitative", "title": null}, "y2": {"datum": 797}}},
  {"data": {"values": [{}]}, "mark": {"type": "rule", "color": "black", "strokeWidth": 2},
   "encoding": {"x": {"datum": 117.66, "type": "quantitative", "axis": null}, "y": {"datum": 1050.5, "type": "quantitative", "title": null}, "y2": {"datum": 797}}}
 ]
},
{
 "width": 757, "height": 113,
 "layer": [
  {"data": {"name": "k"}, "mark": {"type": "bar", "width": 3, "stroke": "black", "strokeWidth": 1},
   "encoding": {
    "x": {"field": "i", "type": "quantitative", "scale": {"domain": [-0.36, 161.71], "nice": false, "zero": false}, "axis": null},
    "y": {"field": "v", "type": "quantitative", "scale": {"domain": [-8000, 292000], "nice": false, "zero": false}, "axis": {"values": [79606, 159213, 238819], "format": "d", "grid": true, "tickCount": 12}, "title": null},
    "y2": {"datum": 0},
    "fill": {"condition": {"test": "datum.c > datum.o", "value": "white"}, "value": "black"}}},
  {"data": {"name": "vma"}, "mark": {"type": "line", "color": "black", "strokeWidth": 1, "interpolate": "monotone"},
   "encoding": {"x": {"field": "i", "type": "quantitative", "axis": null}, "y": {"field": "v", "type": "quantitative", "title": null}, "detail": {"field": "s", "type": "nominal"}}},
  {"data": {"values": [{}]}, "mark": {"type": "text", "font": "DejaVu Sans", "fontWeight": "bold", "fontSize": 12, "align": "left", "baseline": "middle", "color": "black", "dx": 2, "text": "VOL 22225 \u00a05MA 33243 \u00a010MA1 26021 \u00a020MA2 19879"},
   "encoding": {"x": {"datum": 0, "type": "quantitative", "axis": null}, "y": {"datum": 273000, "type": "quantitative", "title": null}}},
  {"data": {"values": [{}]}, "mark": {"type": "rule", "color": "black", "strokeWidth": 2},
   "encoding": {"x": {"datum": 87.7, "type": "quantitative", "axis": null}, "y": {"datum": 292000, "type": "quantitative", "title": null}, "y2": {"datum": -8000}}},
  {"data": {"values": [{}]}, "mark": {"type": "rule", "color": "black", "strokeWidth": 2},
   "encoding": {"x": {"datum": 117.66, "type": "quantitative", "axis": null}, "y": {"datum": 292000, "type": "quantitative", "title": null}, "y2": {"datum": -8000}}}
 ]
},
{
 "width": 757, "height": 160,
 "layer": [
  {"data": {"name": "k"}, "mark": {"type": "rule", "color": "black", "strokeWidth": 1},
   "encoding": {
    "x": {"field": "i", "type": "quantitative", "scale": {"domain": [-0.36, 161.71], "nice": false, "zero": false}, "axis": null},
    "y": {"field": "m", "type": "quantitative", "scale": {"domain": [-0.516, 0.361], "nice": false, "zero": false}, "axis": {"values": [0.25, 0.1, -0.05, -0.2, -0.35], "format": ".2f", "labelExpr": "replace(datum.label, '\u2212', '-')", "grid": true, "tickCount": 12}, "title": null},
    "y2": {"datum": 0}}},
  {"data": {"name": "macd"}, "mark": {"type": "line", "color": "black", "strokeWidth": 1, "interpolate": "monotone"},
   "encoding": {"x": {"field": "i", "type": "quantitative", "axis": null}, "y": {"field": "v", "type": "quantitative", "title": null}, "detail": {"field": "s", "type": "nominal"}}},
  {"data": {"values": [{}]}, "mark": {"type": "text", "font": "DejaVu Sans", "fontWeight": "bold", "fontSize": 12, "align": "left", "baseline": "middle", "color": "black", "dx": 2, "text": "MACD\u2013 DIF -0.12 \u00a0MACD -0.18 \u00a0DIF-MACD 0.06"},
   "encoding": {"x": {"datum": 0, "type": "quantitative", "axis": null}, "y": {"datum": 0.317, "type": "quantitative", "title": null}}},
  {"data": {"values": [{}]}, "mark": {"type": "rule", "color": "black", "strokeWidth": 2},
   "encoding": {"x": {"datum": 87.7, "type": "quantitative", "axis": null}, "x2": {"datum": 117.66}, "y": {"datum": 0.305, "type": "quantitative", "title": null}}},
  {"data": {"values": [{}]}, "mark": {"type": "rule", "color": "black", "strokeWidth": 2},
   "encoding": {"x": {"datum": 87.7, "type": "quantitative", "axis": null}, "y": {"datum": 0.361, "type": "quantitative", "title": null}, "y2": {"datum": 0.305}}},
  {"data": {"values": [{}]}, "mark": {"type": "rule", "color": "black", "strokeWidth": 2},
   "encoding": {"x": {"datum": 117.66, "type": "quantitative", "axis": null}, "y": {"datum": 0.361, "type": "quantitative", "title": null}, "y2": {"datum": 0.305}}}
 ]
}
]
}
